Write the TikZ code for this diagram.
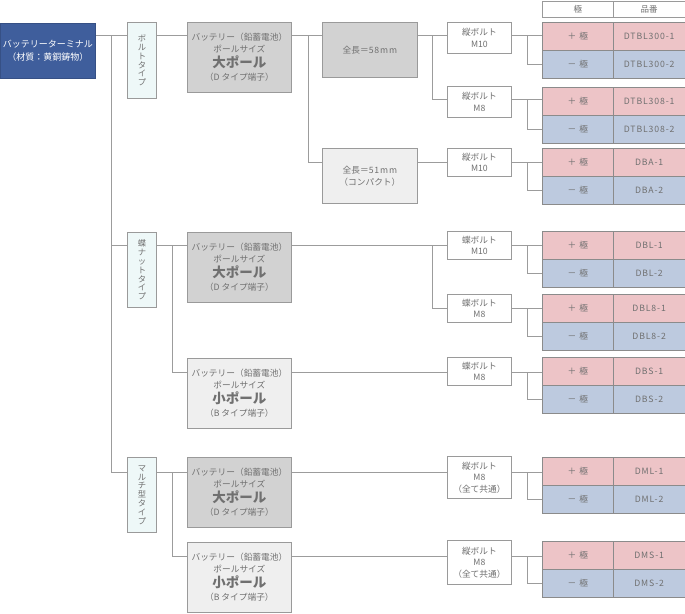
\documentclass[tikz,border=0pt]{standalone}
\usepackage{fontspec}
\newfontfamily\jp{Noto Sans CJK JP}
\newfontfamily\jpls[LetterSpace=10]{Noto Sans CJK JP}
\definecolor{rootblue}{HTML}{3F5E9C}
\definecolor{typecyan}{HTML}{EEF8F8}
\definecolor{darkg}{HTML}{D2D2D2}
\definecolor{lightg}{HTML}{EFEFEF}
\definecolor{pinkc}{HTML}{EDC4C7}
\definecolor{bluec}{HTML}{BDCADF}
\definecolor{bordc}{HTML}{9A9A9A}
\definecolor{linec}{HTML}{9C9C9C}
\definecolor{txtc}{HTML}{707070}
\begin{document}
\begin{tikzpicture}[x=1pt,y=-1pt,
  base/.style={draw=bordc, line width=0.8pt, inner sep=0pt, anchor=north west, align=center, text=txtc,
    font=\jp\fontsize{8.5}{11}\selectfont},
  rootbox/.style={base, fill=rootblue, draw=rootblue!85!black, text=white, minimum width=95pt, minimum height=55pt,
    font=\jp\fontsize{9}{13}\selectfont},
  typebox/.style={base, fill=typecyan, minimum width=29pt, minimum height=76pt,
    font=\jp\fontsize{8.3}{8.8}\selectfont},
  batbig/.style={base, fill=darkg, minimum width=104pt, minimum height=70pt, font=\jp\fontsize{8.7}{12}\selectfont},
  batsmall/.style={batbig, fill=lightg},
  lenbox/.style={base, minimum width=95pt, minimum height=55pt, font=\jp\fontsize{8.7}{12}\selectfont},
  boltbox/.style={base, fill=white, minimum width=64pt, font=\jp\fontsize{8.7}{11.5}\selectfont},
  cellp/.style={base, draw=bordc!90!black, fill=pinkc, minimum width=71pt, minimum height=28pt, font=\jp\fontsize{8.7}{11}\selectfont},
  celln/.style={cellp, fill=bluec},
  hdr/.style={base, fill=white, minimum width=71pt, minimum height=16pt},
  ln/.style={draw=linec, line width=0.8pt}
]
\useasboundingbox (0,0) rectangle (685,613);
\fill[white] (0,0) rectangle (685,613);

% root and types
\node[rootbox] (root) at (0,23) {バッテリーターミナル\\（材質：黄銅鋳物）};
\node[typebox] (t1) at (127,22) {ボ\\ル\\ト\\タ\\イ\\プ};
\node[typebox, minimum height=75pt] (t2) at (127,232) {蝶\\ナ\\ッ\\ト\\タ\\イ\\プ};
\node[typebox, minimum height=75pt] (t3) at (127,457) {マ\\ル\\チ\\型\\タ\\イ\\プ};

% batteries
\newcommand\bigpole{{\fontsize{13.5}{16}\selectfont\bfseries 大ポール}}
\newcommand\smallpole{{\fontsize{13.5}{16}\selectfont\bfseries 小ポール}}
\node[batbig] (b1) at (187,22) {バッテリー（鉛蓄電池）\\ポールサイズ\\[2pt]\bigpole\\[1pt]（D タイプ端子）};
\node[batbig] (b2) at (187,232) {バッテリー（鉛蓄電池）\\ポールサイズ\\[2pt]\bigpole\\[1pt]（D タイプ端子）};
\node[batsmall] (b3) at (187,358) {バッテリー（鉛蓄電池）\\ポールサイズ\\[2pt]\smallpole\\[1pt]（B タイプ端子）};
\node[batbig] (b4) at (187,457) {バッテリー（鉛蓄電池）\\ポールサイズ\\[2pt]\bigpole\\[1pt]（D タイプ端子）};
\node[batsmall] (b5) at (187,542) {バッテリー（鉛蓄電池）\\ポールサイズ\\[2pt]\smallpole\\[1pt]（B タイプ端子）};

% lengths
\node[lenbox, fill=darkg] (l1) at (322,22) {全長＝{\jpls 58mm}};
\node[lenbox, fill=lightg] (l2) at (322,148) {全長＝{\jpls 51mm}\\（コンパクト）};

% bolts
\node[boltbox, minimum height=31pt] (v1) at (447,22) {縦ボルト\\M10};
\node[boltbox, minimum height=31pt] (v2) at (447,86) {縦ボルト\\M8};
\node[boltbox, minimum height=28pt] (v3) at (447,148) {縦ボルト\\M10};
\node[boltbox, minimum height=28pt] (v4) at (447,231) {蝶ボルト\\M10};
\node[boltbox, minimum height=28pt] (v5) at (447,294) {蝶ボルト\\M8};
\node[boltbox, minimum height=28pt] (v6) at (447,357) {蝶ボルト\\M8};
\node[boltbox, minimum height=42pt] (v7) at (447,456) {縦ボルト\\M8\\（全て共通）};
\node[boltbox, minimum height=44pt] (v8) at (447,540) {縦ボルト\\M8\\（全て共通）};

% header
\node[hdr] (h1) at (542,1) {極};
\node[hdr, minimum width=71.5pt] (h2) at (613,1) {品番};

% levels
\coordinate (r1) at (0,35);
\coordinate (r2) at (0,99);
\coordinate (r3) at (0,162);
\coordinate (r4) at (0,245);
\coordinate (r5) at (0,308);
\coordinate (r6) at (0,372);
\coordinate (r7) at (0,472);
\coordinate (r8) at (0,556);
\coordinate (xa) at (111,0);
\coordinate (xb) at (172,0);
\coordinate (xc) at (308,0);
\coordinate (xd) at (432,0);
\coordinate (xe) at (527,0);

% tables
\foreach \i/\ty/\pn in {1/22/DTBL300,2/87/DTBL308,3/148/DBA,4/231/DBL,5/294/DBL8,6/357/DBS,7/457/DML,8/541/DMS}{
  \node[cellp] (p\i) at (542,\ty) {＋\hspace{3pt}極};
  \node[cellp, minimum width=71.5pt] (pc\i) at (613,\ty) {\jpls \pn-1};
  \node[celln] (n\i) at (542,\ty+28) {－\hspace{3pt}極};
  \node[celln, minimum width=71.5pt] (nc\i) at (613,\ty+28) {\jpls \pn-2};
  \draw[ln] (v\i.east |- r\i) -- (p\i.west |- r\i);
  \draw[ln] (xe |- r\i) |- (n\i.west);
}

% connectors
\draw[ln] (root.east |- r1) -- (t1.west |- r1);
\draw[ln] (xa |- r1) |- (t2.west |- r4);
\draw[ln] (xa |- r4) |- (t3.west |- r7);
\draw[ln] (t1.east |- r1) -- (b1.west |- r1);
\draw[ln] (t2.east |- r4) -- (b2.west |- r4);
\draw[ln] (xb |- r4) |- (b3.west |- r6);
\draw[ln] (t3.east |- r7) -- (b4.west |- r7);
\draw[ln] (xb |- r7) |- (b5.west |- r8);
\draw[ln] (b1.east |- r1) -- (l1.west |- r1);
\draw[ln] (xc |- r1) |- (l2.west |- r3);
\draw[ln] (l1.east |- r1) -- (v1.west |- r1);
\draw[ln] (xd |- r1) |- (v2.west |- r2);
\draw[ln] (l2.east |- r3) -- (v3.west |- r3);
\draw[ln] (b2.east |- r4) -- (v4.west |- r4);
\draw[ln] (xd |- r4) |- (v5.west |- r5);
\draw[ln] (b3.east |- r6) -- (v6.west |- r6);
\draw[ln] (b4.east |- r7) -- (v7.west |- r7);
\draw[ln] (b5.east |- r8) -- (v8.west |- r8);
\end{tikzpicture}
\end{document}
